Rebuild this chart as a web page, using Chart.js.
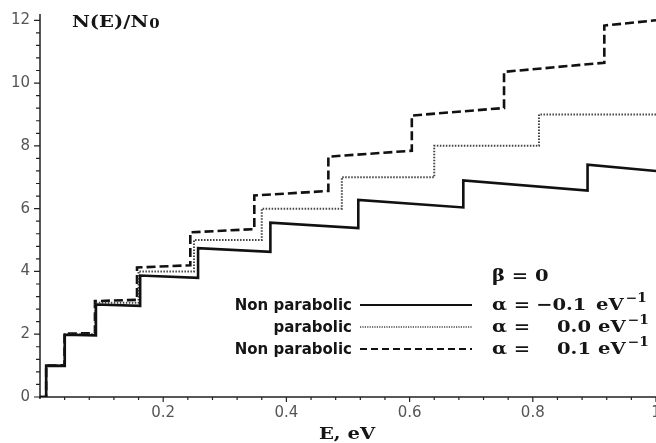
<!DOCTYPE html>
<html><head><meta charset="utf-8">
<script src="https://cdn.jsdelivr.net/npm/chart.js@4/dist/chart.umd.min.js"></script>
<style>html,body{margin:0;padding:0;background:#fff;}canvas{display:block;}</style>
</head><body>
<canvas id="c" width="656" height="443"></canvas>
<script>
// ---- data ----
// Non parabolic, alpha = -0.1 eV^-1 (solid)
const eSolid = [0, 0.0100, 0.0100, 0.0402, 0.0402, 0.0908, 0.0908, 0.1626, 0.1626, 0.2566, 0.2566, 0.3740, 0.3740, 0.5167, 0.5167, 0.6872, 0.6872, 0.8889, 0.8889, 1.0];
const nSolid = [0, 0, 0.998, 0.992, 1.984, 1.964, 2.946, 2.902, 3.870, 3.795, 4.743, 4.626, 5.551, 5.380, 6.277, 6.038, 6.900, 6.578, 7.400, 7.200];
// parabolic, alpha = 0 (dotted)
const eParab = [0, 0.01, 0.01, 0.04, 0.04, 0.09, 0.09, 0.16, 0.16, 0.25, 0.25, 0.36, 0.36, 0.49, 0.49, 0.64, 0.64, 0.81, 0.81, 1.0];
const nParab = [0, 0, 1, 1, 2, 2, 3, 3, 4, 4, 5, 5, 6, 6, 7, 7, 8, 8, 9, 9];
// Non parabolic, alpha = +0.1 eV^-1 (dashed)
const eDash = [0, 0.0100, 0.0100, 0.0398, 0.0398, 0.0892, 0.0892, 0.1575, 0.1575, 0.2440, 0.2440, 0.3479, 0.3479, 0.4681, 0.4681, 0.6036, 0.6036, 0.7533, 0.7533, 0.9161, 0.9161, 1.0];
const nDash = [0, 0, 1.002, 1.008, 2.016, 2.036, 3.054, 3.095, 4.126, 4.195, 5.244, 5.348, 6.417, 6.563, 7.655, 7.845, 8.966, 9.206, 10.356, 10.649, 11.832, 12.0];

const xTickValues = [0.2, 0.4, 0.6, 0.8, 1];
const xTickLabels = ['0.2', '0.4', '0.6', '0.8', '1'];
const yTickValues = [0, 2, 4, 6, 8, 10, 12];
const yTickLabels = ['0', '2', '4', '6', '8', '10', '12'];

const legendNames = ['Non parabolic', 'parabolic', 'Non parabolic'];
const legendAlpha = ['\u22120.1', '0.0', '0.1'];

function pts(xs, ys) { return xs.map((x, i) => ({ x: x, y: ys[i] })); }

const INK = '#151515';
const serif = 'bold 17px "DejaVu Serif"';
const SX = 1.15;

function stretchText(c, txt, x, y, font, align) {
  c.save();
  c.translate(x, y); c.scale(SX, 1);
  c.font = font; c.textAlign = align || 'left';
  c.fillText(txt, 0, 0);
  const w = c.measureText(txt).width * SX;
  c.restore();
  return w;
}

const axesPlugin = {
  id: 'mapleAxes',
  beforeDatasetsDraw(chart) {
    const c = chart.ctx, xs = chart.scales.x, ys = chart.scales.y;
    const x0 = xs.getPixelForValue(0), y0 = ys.getPixelForValue(0);
    c.save();
    c.strokeStyle = '#222';
    c.lineWidth = 1.5;
    c.beginPath();
    c.moveTo(x0, y0 + 2); c.lineTo(x0, chart.chartArea.top);
    c.moveTo(x0 - 1, y0); c.lineTo(chart.chartArea.right, y0);
    c.stroke();
    c.lineWidth = 1.2;
    c.beginPath();
    for (let k = 1; k <= 25; k++) {
      const px = xs.getPixelForValue(k * 0.04);
      const len = (k % 5 === 0) ? 5 : 3;
      c.moveTo(px, y0); c.lineTo(px, y0 + len);
    }
    for (let k = 0; k <= 30; k++) {
      const py = ys.getPixelForValue(k * 0.4);
      const len = (k % 5 === 0) ? 6 : 4;
      c.moveTo(x0, py); c.lineTo(x0 - len, py);
    }
    c.stroke();
    c.restore();
  },
  afterDraw(chart) {
    const c = chart.ctx;
    c.save();
    c.fillStyle = INK;
    c.textBaseline = 'alphabetic';
    // y title
    const w = stretchText(c, 'N(E)/N', 72, 27, serif);
    stretchText(c, '0', 72 + w + 1, 28, 'bold 13px "DejaVu Serif"');
    // x title
    stretchText(c, 'E, eV', 347, 439, serif, 'center');
    // legend
    const rows = [310, 332, 354];
    const lx0 = 360, lx1 = 472;
    stretchText(c, '\u03B2 = 0', 492, 281, serif);
    for (let i = 0; i < 3; i++) {
      const yb = rows[i];
      c.font = 'bold 15px "DejaVu Sans"';
      c.textAlign = 'right';
      c.fillText(legendNames[i], 352, yb);
      const ds = chart.data.datasets[i];
      c.save();
      c.strokeStyle = ds.borderColor;
      c.lineWidth = i === 1 ? 1.6 : 2.2;
      c.setLineDash(i === 0 ? [] : (i === 1 ? [1.2, 1.2] : [7, 4]));
      c.beginPath(); c.moveTo(lx0, yb - 5); c.lineTo(lx1, yb - 5); c.stroke();
      c.restore();
      stretchText(c, '\u03B1 =', 492, yb, serif);
      const xn = (i === 0) ? 536 : 557;
      stretchText(c, legendAlpha[i], xn, yb, serif);
      const xe = (i === 0) ? 596 : 598;
      const we = stretchText(c, 'eV', xe, yb, serif);
      stretchText(c, '\u22121', xe + we + 2, yb - 8, 'bold 12px "DejaVu Serif"');
    }
    c.restore();
  }
};

new Chart(document.getElementById('c').getContext('2d'), {
  type: 'scatter',
  data: {
    datasets: [
      { label: 'Non parabolic, \u03B1 = \u22120.1 eV\u207B\u00B9', data: pts(eSolid, nSolid), showLine: true, borderColor: '#111', borderWidth: 2.6, pointRadius: 0, fill: false, tension: 0 },
      { label: 'parabolic, \u03B1 = 0.0 eV\u207B\u00B9', data: pts(eParab, nParab), showLine: true, borderColor: '#444', borderWidth: 2, borderDash: [1.5, 1.5], pointRadius: 0, fill: false, tension: 0 },
      { label: 'Non parabolic, \u03B1 = 0.1 eV\u207B\u00B9', data: pts(eDash, nDash), showLine: true, borderColor: '#111', borderWidth: 2.6, borderDash: [9, 4], pointRadius: 0, fill: false, tension: 0 }
    ]
  },
  options: {
    responsive: false,
    animation: false,
    devicePixelRatio: 1,
    layout: { padding: { top: 14, right: 0, left: 0, bottom: 0 } },
    plugins: { legend: { display: false }, tooltip: { enabled: false } },
    scales: {
      x: {
        type: 'linear', min: 0, max: 1,
        grid: { display: false, drawTicks: false }, border: { display: false },
        afterBuildTicks: s => { s.ticks = xTickValues.map(v => ({ value: v })); },
        afterFit: s => { s.height = 46; s.paddingLeft = 0; s.paddingRight = 0; },
        ticks: { padding: 7, autoSkip: false, maxRotation: 0, color: '#555', font: { family: 'DejaVu Sans', size: 15 },
                 callback: (v, i) => xTickLabels[i] }
      },
      y: {
        type: 'linear', min: 0, max: 12.2,
        grid: { display: false, drawTicks: false }, border: { display: false },
        afterBuildTicks: s => { s.ticks = yTickValues.map(v => ({ value: v })); },
        afterFit: s => { s.width = 40; s.paddingTop = 0; s.paddingBottom = 0; },
        ticks: { padding: 10, autoSkip: false, color: '#555', font: { family: 'DejaVu Sans', size: 15 },
                 callback: (v, i) => yTickLabels[i] }
      }
    }
  },
  plugins: [axesPlugin]
});
</script>
</body></html>
